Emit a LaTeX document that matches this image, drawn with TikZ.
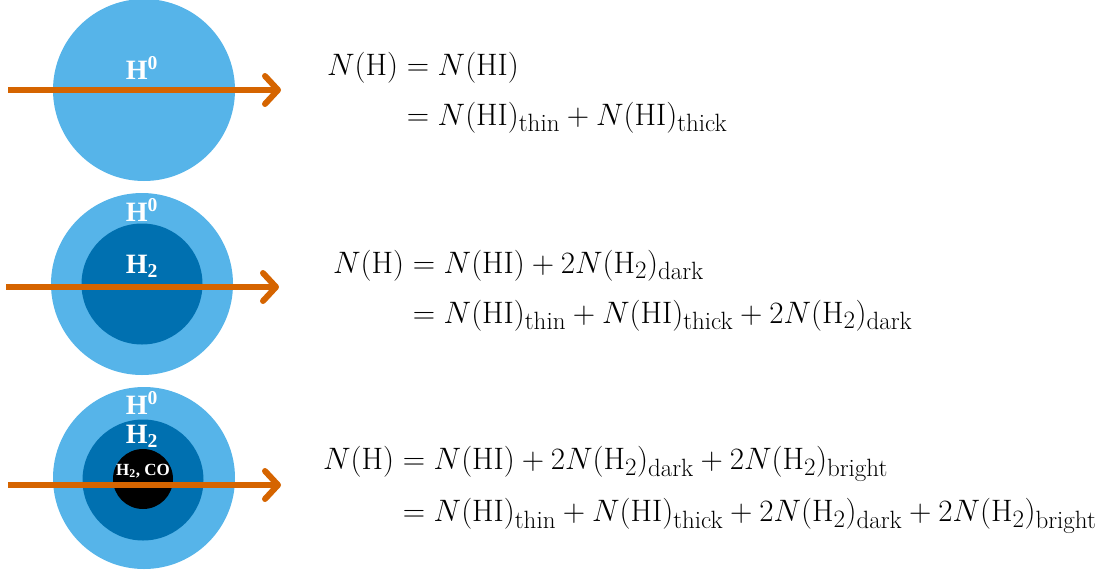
\RequirePackage{fix-cm}
\documentclass[tikz,border=0pt]{standalone}
\usepackage{amsmath}
\usepackage{fontspec}
\newfontfamily\labelfont{Liberation Serif}
\usetikzlibrary{arrows.meta,positioning}
\definecolor{atomblue}{RGB}{86,180,233}
\definecolor{molblue}{RGB}{0,112,176}
\definecolor{rayorange}{RGB}{213,100,0}
\DeclareMathSizes{31}{31}{25}{19}

\begin{document}
\begin{tikzpicture}[x=1pt, y=-1pt, every node/.style={inner sep=0pt}]
  \tikzset{
    atomic/.style={circle, fill=atomblue, minimum size=182pt},
    molec/.style={circle, fill=molblue, minimum size=121pt},
    core/.style={circle, fill=black, minimum size=60pt},
    lbl/.style={text=white, font=\labelfont\bfseries\fontsize{28}{28}\selectfont},
    smalllbl/.style={text=white, font=\labelfont\bfseries\fontsize{17}{17}\selectfont},
    sightline/.style={-{Straight Barb[length=13pt, width=28pt, round]}, line width=6pt, rayorange},
    eqn/.style={anchor=west, font=\fontsize{31}{36}\selectfont}
  }
  \useasboundingbox (0,0) rectangle (1109,574);

  % clouds
  \node[atomic] (cloud1) at (144,90) {};
  \node[atomic] (cloud2) at (142,284) {};
  \node[molec] (mol2) at (142,284) {};
  \node[atomic] (cloud3) at (144,478) {};
  \node[molec] (mol3) at (143,480) {};
  \node[core] (core3) at (143,479) {};

  % labels
  \node[lbl] (hi1) at (142,68) {H\textsuperscript{0}};
  \node[lbl] (hi2) at (142,210) {H\textsuperscript{0}};
  \node[lbl] (htwo2) at (142,266) {H\textsubscript{2}};
  \node[lbl] (hi3) at (142,403) {H\textsuperscript{0}};
  \node[lbl] (htwo3) at (142,436) {H\textsubscript{2}};
  \node[smalllbl] (co3) at (143,471) {H\textsubscript{2}, CO};

  % sight lines
  \coordinate (in1) at (8,90);   \coordinate (out1) at (281,90);
  \coordinate (in2) at (6,287);  \coordinate (out2) at (279,287);
  \coordinate (in3) at (8,485);  \coordinate (out3) at (281,485);
  \draw[sightline] (in1) -- (out1);
  \draw[sightline] (in2) -- (out2);
  \draw[sightline] (in3) -- (out3);

  % column densities
  \node[eqn] (eq1) at (327,93) {$\begin{aligned}
      N(\mathrm{H}) &= N(\mathrm{HI})\\[11pt]
      &= N(\mathrm{HI})_{\text{thin}} + N(\mathrm{HI})_{\text{thick}}
    \end{aligned}$};
  \node[eqn] (eq2) at (333,291) {$\begin{aligned}
      N(\mathrm{H}) &= N(\mathrm{HI}) + 2N(\mathrm{H}_2)_{\text{dark}}\\[11pt]
      &= N(\mathrm{HI})_{\text{thin}} + N(\mathrm{HI})_{\text{thick}} + 2N(\mathrm{H}_2)_{\text{dark}}
    \end{aligned}$};
  \node[eqn] (eq3) at (323,489) {$\begin{aligned}
      N(\mathrm{H}) &= N(\mathrm{HI}) + 2N(\mathrm{H}_2)_{\text{dark}} + 2N(\mathrm{H}_2)_{\text{bright}}\\[11pt]
      &= N(\mathrm{HI})_{\text{thin}} + N(\mathrm{HI})_{\text{thick}} + 2N(\mathrm{H}_2)_{\text{dark}} + 2N(\mathrm{H}_2)_{\text{bright}}
    \end{aligned}$};
\end{tikzpicture}
\end{document}
